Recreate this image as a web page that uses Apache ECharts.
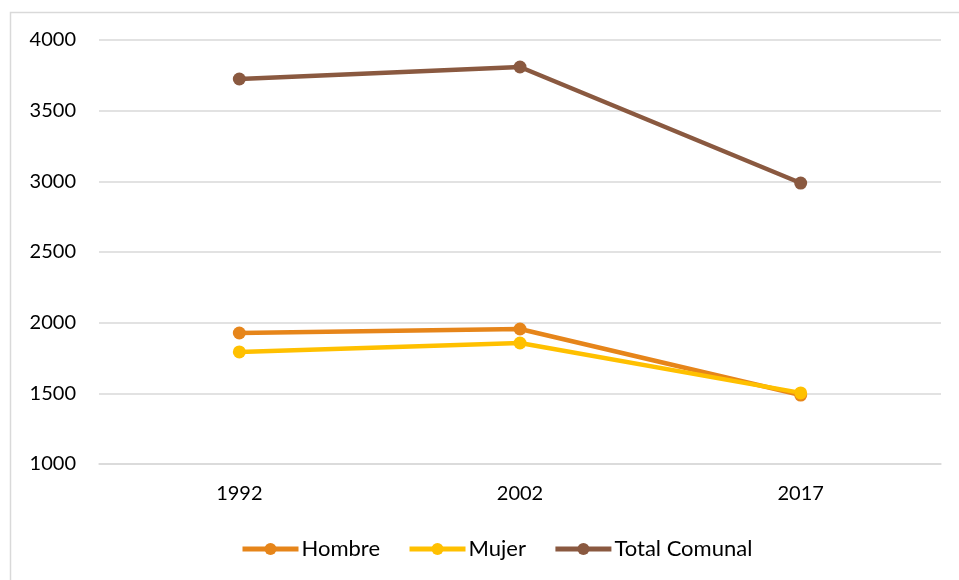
<!DOCTYPE html>
<html>
<head>
<meta charset="utf-8">
<script src="https://cdn.jsdelivr.net/npm/echarts@6/dist/echarts.min.js"></script>
<style>
  html, body { margin: 0; padding: 0; background: #fff; }
  #chart { width: 959px; height: 580px; }
</style>
</head>
<body>
<div id="chart"></div>
<script>
// años censales
const years = ['1992', '2002', '2017'];

const hombre = [1927, 1955, 1488];
const mujer = [1793, 1856, 1503];
const totalComunal = [3724, 3809, 2988];

const chart = echarts.init(document.getElementById('chart'), null, { renderer: 'canvas' });

const fontFam = 'Lato, "Open Sans", sans-serif';

function serie(name, data, color) {
  return {
    name: name,
    type: 'line',
    data: data,
    symbol: 'circle',
    symbolSize: 13,
    lineStyle: { width: 4.5, color: color },
    itemStyle: { color: color },
    emphasis: { disabled: true }
  };
}

let option = {
  backgroundColor: '#fff',
  animation: false,
  graphic: [
    {
      type: 'rect',
      shape: { x: 10.5, y: 12.5, width: 960, height: 580 },
      style: { fill: 'none', stroke: '#d9d9d9', lineWidth: 1.5 }
    }
  ],
  grid: { left: 99, right: 18, top: 40, bottom: 116 },
  legend: {
    bottom: 15,
    left: 235,
    itemWidth: 56,
    itemHeight: 15,
    itemGap: 27,
    lineStyle: { width: 5 },
    textStyle: { fontFamily: fontFam, fontSize: 22, color: '#000', padding: [0, 0, 0, -2] },
    data: ['Hombre', 'Mujer', 'Total Comunal']
  },
  xAxis: {
    type: 'category',
    data: years,
    axisLine: { lineStyle: { color: '#d9d9d9', width: 1.5 } },
    axisTick: { show: false },
    axisLabel: { fontFamily: fontFam, fontSize: 20, color: '#000', margin: 20 }
  },
  yAxis: {
    type: 'value',
    min: 1000,
    max: 4000,
    interval: 500,
    axisLine: { show: false },
    axisTick: { show: false },
    splitLine: { lineStyle: { color: '#d9d9d9', width: 1.5 } },
    axisLabel: {
      fontFamily: fontFam, fontSize: 20, color: '#000', margin: 23,
      formatter: (v) => String(v)
    }
  },
  series: [
    serie('Hombre', hombre, '#E6851A'),
    serie('Mujer', mujer, '#FFC000'),
    serie('Total Comunal', totalComunal, '#8A5940')
  ]
};

chart.setOption(option);
window.addEventListener('resize', chart.resize);
</script>
</body>
</html>
